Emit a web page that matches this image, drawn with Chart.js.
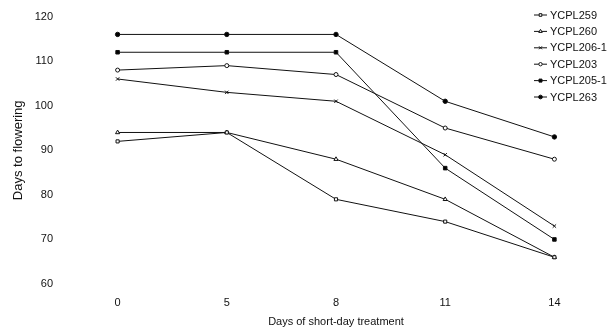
<!DOCTYPE html>
<html><head><meta charset="utf-8">
<script src="https://cdn.jsdelivr.net/npm/chart.js@4"></script>
<style>html,body{margin:0;padding:0;background:#fff;}#wrap{width:614px;height:329px;position:relative;}</style>
</head><body><div id="wrap"><canvas id="c" width="614" height="329"></canvas></div>
<script>
const categories = ['0', '5', '8', '11', '14'];
const seriesNames = ['YCPL259', 'YCPL260', 'YCPL206-1', 'YCPL203', 'YCPL205-1', 'YCPL263'];
const ycpl259 = [92, 94, 79, 74, 66];
const ycpl260 = [94, 94, 88, 79, 66];
const ycpl206_1 = [106, 103, 101, 89, 73];
const ycpl203 = [108, 109, 107, 95, 88];
const ycpl205_1 = [112, 112, 112, 86, 70];
const ycpl263 = [116, 116, 116, 101, 93];
const yTicks = [60, 70, 80, 90, 100, 110, 120];

const seriesValues = [ycpl259, ycpl260, ycpl206_1, ycpl203, ycpl205_1, ycpl263];
const styles = [
  {pointStyle: 'rect', fill: '#fff', r: 2.2},
  {pointStyle: 'triangle', fill: '#fff', r: 2.4},
  {pointStyle: 'crossRot', fill: '#fff', r: 2.4},
  {pointStyle: 'circle', fill: '#fff', r: 2},
  {pointStyle: 'rect', fill: '#000', r: 2.5},
  {pointStyle: 'circle', fill: '#000', r: 2.2}
];
const FONT = 'Liberation Sans, Arial, sans-serif';

const datasets = seriesNames.map((n, i) => ({
  label: n, data: seriesValues[i],
  borderColor: '#111', borderWidth: 1,
  pointStyle: styles[i].pointStyle, pointRadius: styles[i].r,
  pointBackgroundColor: styles[i].fill, pointBorderColor: '#111', pointBorderWidth: 1,
  tension: 0, fill: false
}));

const customLegend = {
  id: 'customLegend',
  afterDraw(chart) {
    const ctx = chart.ctx;
    ctx.save();
    ctx.font = '11px ' + FONT;
    ctx.textBaseline = 'middle';
    seriesNames.forEach((n, i) => {
      const y = 15 + i * 16.4;
      ctx.strokeStyle = '#111'; ctx.lineWidth = 1;
      ctx.beginPath(); ctx.moveTo(534, y); ctx.lineTo(547, y); ctx.stroke();
      ctx.fillStyle = styles[i].fill;
      Chart.helpers.drawPoint(ctx, {pointStyle: styles[i].pointStyle, radius: styles[i].r * 0.85, rotation: 0, borderWidth: 1}, 540.5, y);
      ctx.fillStyle = '#111';
      ctx.fillText(n, 550, y + 0.5);
    });
    ctx.restore();
  }
};

new Chart(document.getElementById('c'), {
  type: 'line',
  data: {labels: categories, datasets},
  options: {
    responsive: false, animation: false,
    layout: {padding: {top: 15, right: 1, left: 0, bottom: 0}},
    plugins: {legend: {display: false}, tooltip: {enabled: false}},
    scales: {
      x: {
        offset: true,
        grid: {display: false, drawTicks: false},
        border: {display: false},
        ticks: {color: '#111', font: {family: FONT, size: 11}, padding: 12},
        title: {display: true, text: 'Days of short-day treatment', color: '#111', font: {family: FONT, size: 11}, padding: {top: 6, bottom: 0}},
        afterFit: s => { s.height = 45; }
      },
      y: {
        min: 60, max: 120,
        afterBuildTicks: s => { s.ticks = yTicks.map(v => ({value: v})); },
        grid: {display: false, drawTicks: false},
        border: {display: false},
        ticks: {color: '#111', font: {family: FONT, size: 11}, padding: 10},
        title: {display: true, text: 'Days to flowering', color: '#111', font: {family: FONT, size: 13}, padding: {top: 11, bottom: 0}},
        afterFit: s => { s.width = 63; }
      }
    }
  },
  plugins: [customLegend]
});
</script></body></html>
